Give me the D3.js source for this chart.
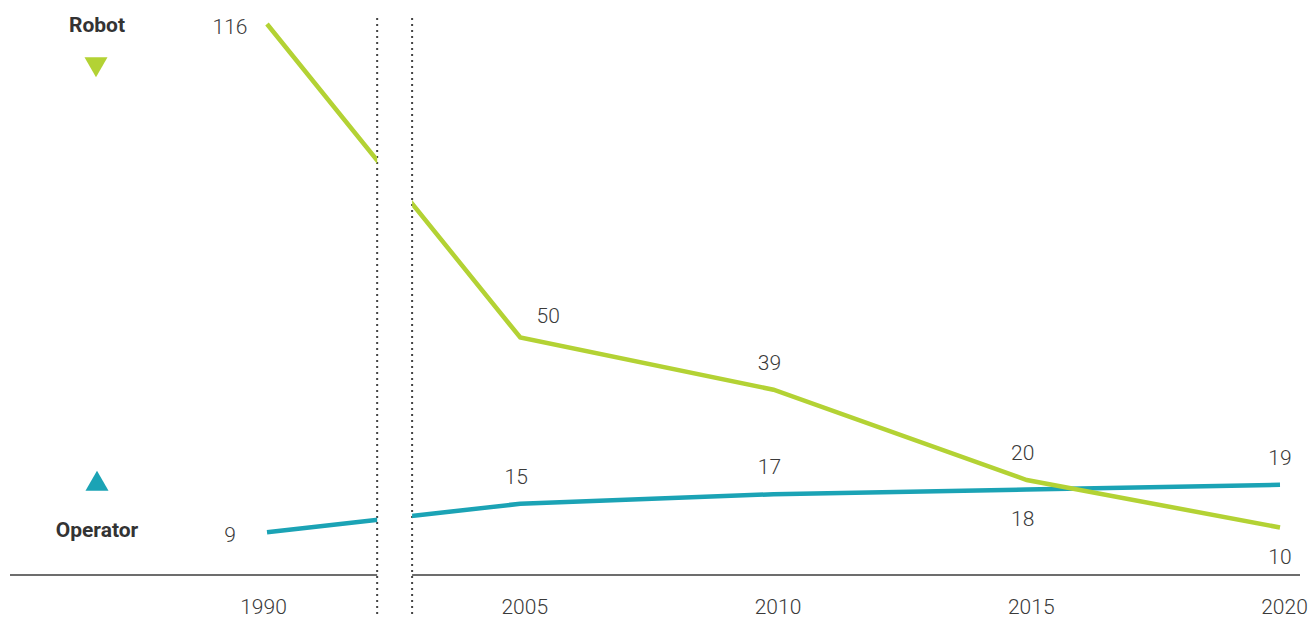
<!DOCTYPE html>
<html>
<head>
<meta charset="utf-8">
<script src="https://cdn.jsdelivr.net/npm/d3@7"></script>
<style>
  body { margin: 0; background: #fff; }
  svg { display: block; }
  .val { font-family: Roboto, sans-serif; font-weight: 300; font-size: 21px; fill: #3a3a3a; }
  .leg { font-family: Roboto, sans-serif; font-weight: 700; font-size: 21px; fill: #333; }
</style>
</head>
<body>
<svg id="chart"></svg>
<script>
const years = ["1990", "2005", "2010", "2015", "2020"];
const robot = [116, 50, 39, 20, 10];
const operator = [9, 15, 17, 18, 19];

// where each value label sits relative to its point
const robotPlace = ["left", "aboveRight", "above", "above", "below"];
const operatorPlace = ["left", "above", "above", "below", "above"];

const width = 1309, height = 618;
const green = "#b3d234", teal = "#1ba3b5";

const svg = d3.select("#chart").attr("width", width).attr("height", height);

const x = d3.scalePoint().domain(years).range([267, 1280]);
const y = d3.scaleLinear().domain([0, 116]).range([575, 24]);

// break in the time axis between 1990 and 2005
const step = x.step();
const b1 = x("1990") + step * 0.435;
const b2 = x("1990") + step * 0.573;

const defs = svg.append("defs");
const clip = defs.append("clipPath").attr("id", "gap");
clip.append("rect").attr("x", 0).attr("y", 0).attr("width", b1).attr("height", height);
clip.append("rect").attr("x", b2).attr("y", 0).attr("width", width - b2).attr("height", height);

// baseline
const axisG = svg.append("g").attr("clip-path", "url(#gap)");
axisG.append("line")
  .attr("x1", 10).attr("x2", 1300)
  .attr("y1", y(0)).attr("y2", y(0))
  .attr("stroke", "#6d6d6d").attr("stroke-width", 2);

const xAxis = svg.append("g")
  .attr("transform", `translate(0,${y(0) + 16})`)
  .call(d3.axisBottom(x).tickSize(0).tickPadding(8));
xAxis.select(".domain").remove();
xAxis.selectAll("text").attr("class", "val").attr("fill", null)
  .attr("dx", (d, i) => i === 0 ? -4 : 4);

// dotted break lines
[b1, b2].forEach(bx => {
  svg.append("line")
    .attr("x1", bx).attr("x2", bx)
    .attr("y1", 18).attr("y2", height)
    .attr("stroke", "#444").attr("stroke-width", 2)
    .attr("stroke-dasharray", "2,4");
});

const line = d3.line().x((d, i) => x(years[i])).y(d => y(d));

const lines = svg.append("g").attr("clip-path", "url(#gap)");
lines.append("path").datum(operator)
  .attr("d", line).attr("fill", "none")
  .attr("stroke", teal).attr("stroke-width", 4.5);
lines.append("path").datum(robot)
  .attr("d", line).attr("fill", "none")
  .attr("stroke", green).attr("stroke-width", 4.5);

const offsets = {
  left: [-37, 3],
  aboveRight: [28, -22],
  above: [-4, -27],
  below: [-4, 29]
};

function labels(vals, places) {
  svg.append("g").selectAll("text").data(vals).join("text")
    .attr("class", "val")
    .attr("x", (d, i) => x(years[i]) + offsets[places[i]][0] + (i === 4 ? 4 : 0))
    .attr("y", (d, i) => y(d) + offsets[places[i]][1])
    .attr("text-anchor", "middle")
    .attr("dominant-baseline", "central")
    .text(d => d);
}
labels(robot, robotPlace);
labels(operator, operatorPlace);

// legend
svg.append("text").attr("class", "leg")
  .attr("x", 97).attr("y", 25).attr("text-anchor", "middle")
  .attr("dominant-baseline", "central").text("Robot");
svg.append("path")
  .attr("d", d3.symbol(d3.symbolTriangle, 230)())
  .attr("transform", "translate(96,64) rotate(180)")
  .attr("fill", green);
svg.append("path")
  .attr("d", d3.symbol(d3.symbolTriangle, 230)())
  .attr("transform", "translate(97,484)")
  .attr("fill", teal);
svg.append("text").attr("class", "leg")
  .attr("x", 97).attr("y", 530).attr("text-anchor", "middle")
  .attr("dominant-baseline", "central").text("Operator");
</script>
</body>
</html>
